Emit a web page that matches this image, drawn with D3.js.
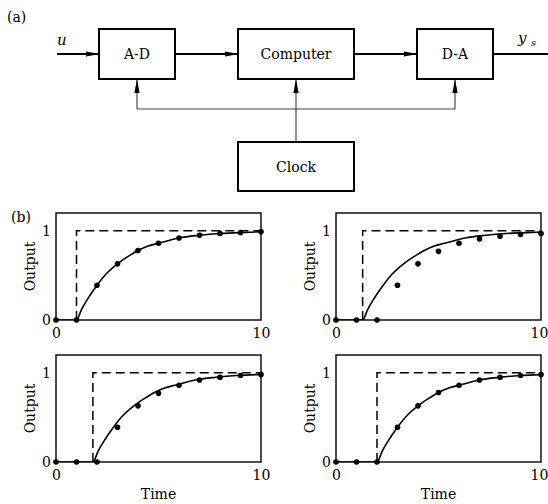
<!DOCTYPE html>
<html>
<head>
<meta charset="utf-8">
<script src="https://cdn.jsdelivr.net/npm/d3@7"></script>
<style>
  body { margin: 0; background: #fff; }
  text { font-family: "DejaVu Serif", serif; fill: #000; }
</style>
</head>
<body>
<div id="chart-area"></div>
<script>
const WIDTH = 548
const HEIGHT = 504

// ---- data ----
const blockLabels = ["A-D", "Computer", "D-A", "Clock"]
const stepTimes = [1.0, 1.3, 1.8, 2.0]          // where the dashed input step rises
const sampleTimes = [0, 1, 2, 3, 4, 5, 6, 7, 8, 9, 10]
const samplesA = [0, 0, 0.39, 0.63, 0.78, 0.86, 0.92, 0.95, 0.97, 0.98, 0.99]
const samplesB = [0, 0, 0, 0.39, 0.63, 0.77, 0.86, 0.91, 0.94, 0.96, 0.97]
const samplesC = [0, 0, 0, 0.39, 0.63, 0.77, 0.86, 0.92, 0.95, 0.97, 0.98]
const samplesD = [0, 0, 0, 0.39, 0.63, 0.78, 0.86, 0.92, 0.95, 0.97, 0.98]
// continuous response, time since the step vs output
const responseOffsets = [0, 0.25, 0.5, 1, 1.5, 2, 2.5, 3, 3.5, 4, 5, 6, 7, 8, 9]
const responseValues = [0, 0.12, 0.22, 0.39, 0.53, 0.63, 0.71, 0.78, 0.83, 0.86, 0.92, 0.95, 0.97, 0.98, 0.99]
const xTicks = [0, 10]
const yTicks = [0, 1]

const svg = d3.select("#chart-area").append("svg")
  .attr("width", WIDTH)
  .attr("height", HEIGHT)

// arrow head
svg.append("defs").append("marker")
  .attr("id", "arrow")
  .attr("markerUnits", "userSpaceOnUse")
  .attr("viewBox", "0 -3 14 6")
  .attr("refX", 13)
  .attr("refY", 0)
  .attr("markerWidth", 14)
  .attr("markerHeight", 6)
  .attr("orient", "auto")
  .append("path")
  .attr("d", "M0,-2.6L14,0L0,2.6Z")
  .attr("fill", "#000")

// ---------- (a) block diagram ----------
const diag = svg.append("g")
diag.append("text").attr("x", 7).attr("y", 22).attr("font-size", "14px").text("(a)")

const boxes = [
  { x: 99, y: 29, w: 76, h: 50 },
  { x: 238, y: 29, w: 116, h: 50 },
  { x: 417, y: 29, w: 76, h: 50 },
  { x: 238, y: 142, w: 116, h: 49 }
]
boxes.forEach((b, i) => {
  diag.append("rect")
    .attr("x", b.x).attr("y", b.y)
    .attr("width", b.w).attr("height", b.h)
    .attr("fill", "none").attr("stroke", "#000").attr("stroke-width", 2)
  diag.append("text")
    .attr("x", b.x + b.w / 2)
    .attr("y", b.y + b.h / 2 + 5)
    .attr("text-anchor", "middle")
    .attr("font-size", "14px")
    .text(blockLabels[i])
})

const SIG_Y = 54
const signal = [
  [57, 99, true], [175, 238, true], [354, 417, true], [493, 548, false]
]
signal.forEach(s => {
  diag.append("line")
    .attr("x1", s[0]).attr("x2", s[1]).attr("y1", SIG_Y).attr("y2", SIG_Y)
    .attr("stroke", "#000").attr("stroke-width", 2)
    .attr("marker-end", s[2] ? "url(#arrow)" : null)
})

// clock distribution
const clk = diag.append("g").attr("stroke", "#444").attr("stroke-width", 1.2).attr("fill", "none")
clk.append("path").attr("d", "M137,109L455,109")
clk.append("path").attr("d", "M137,109L137,80").attr("marker-end", "url(#arrow)")
clk.append("path").attr("d", "M455,109L455,80").attr("marker-end", "url(#arrow)")
clk.append("path").attr("d", "M296,142L296,80").attr("marker-end", "url(#arrow)")

diag.append("text").attr("x", 57).attr("y", 45)
  .attr("font-size", "15px").attr("font-style", "italic").text("u")
diag.append("text").attr("x", 518).attr("y", 43)
  .attr("font-size", "15px").attr("font-style", "italic").text("y")
diag.append("text").attr("x", 531).attr("y", 46)
  .attr("font-size", "10px").attr("font-style", "italic").text("s")

// ---------- (b) step responses ----------
svg.append("text").attr("x", 11).attr("y", 222).attr("font-size", "14px").text("(b)")

const PANEL_W = 205
const PANEL_H = 107
const panelPos = [
  { x: 56, y: 213 }, { x: 336, y: 213 },
  { x: 56, y: 355 }, { x: 336, y: 355 }
]
const panelSamples = [samplesA, samplesB, samplesC, samplesD]

const x = d3.scaleLinear().domain([0, 10]).range([0, PANEL_W])
const y = d3.scaleLinear().domain([0, 1.2]).range([PANEL_H, 0])

svg.append("defs").append("clipPath").attr("id", "plot-clip")
  .append("rect").attr("width", PANEL_W).attr("height", PANEL_H)

const line = d3.line()
  .x(d => x(d[0]))
  .y(d => y(d[1]))

panelPos.forEach((p, i) => {
  const g = svg.append("g").attr("transform", `translate(${p.x}, ${p.y})`)
  const step = stepTimes[i]

  // input step (dashed)
  g.append("path")
    .attr("d", line([[step, 0], [step, 1], [10, 1]]))
    .attr("fill", "none").attr("stroke", "#000")
    .attr("stroke-width", 1.5).attr("stroke-dasharray", "9,5")

  // continuous response
  const curvePts = [[0, 0]].concat(responseOffsets.map((o, k) => [step + o, responseValues[k]]))
  g.append("path")
    .attr("clip-path", "url(#plot-clip)")
    .attr("d", line.curve(d3.curveMonotoneX)(curvePts))
    .attr("fill", "none").attr("stroke", "#000").attr("stroke-width", 1.6)
  line.curve(d3.curveLinear)

  // frame
  g.append("rect")
    .attr("width", PANEL_W).attr("height", PANEL_H)
    .attr("fill", "none").attr("stroke", "#000").attr("stroke-width", 1.4)

  // sampled output
  g.selectAll("circle")
    .data(sampleTimes.map((t, k) => [t, panelSamples[i][k]]))
    .enter().append("circle")
    .attr("cx", d => x(d[0]))
    .attr("cy", d => y(d[1]))
    .attr("r", 2.8)
    .attr("fill", "#000")

  // axes
  const xAxis = g.append("g")
    .attr("transform", `translate(0, ${PANEL_H})`)
    .call(d3.axisBottom(x).tickValues(xTicks).tickSize(0).tickPadding(8).tickFormat(d3.format("d")))
  const yAxis = g.append("g")
    .call(d3.axisLeft(y).tickValues(yTicks).tickSize(0).tickPadding(5).tickFormat(d3.format("d")))
  ;[xAxis, yAxis].forEach(a => {
    a.select(".domain").remove()
    a.selectAll("text")
      .attr("font-family", "DejaVu Serif, serif")
      .attr("font-size", "14px")
      .attr("fill", "#000")
  })
  // right-hand panels: keep the "10" inside the page
  if (i % 2 === 1) {
    xAxis.selectAll(".tick text").filter(d => d === 10).attr("dx", -2)
  }

  g.append("text")
    .attr("transform", "rotate(-90)")
    .attr("x", -PANEL_H / 2)
    .attr("y", -21)
    .attr("text-anchor", "middle")
    .attr("font-size", "14px")
    .text("Output")

  if (i >= 2) {
    g.append("text")
      .attr("x", PANEL_W / 2)
      .attr("y", PANEL_H + 37)
      .attr("text-anchor", "middle")
      .attr("font-size", "14px")
      .text("Time")
  }
})
</script>
</body>
</html>
